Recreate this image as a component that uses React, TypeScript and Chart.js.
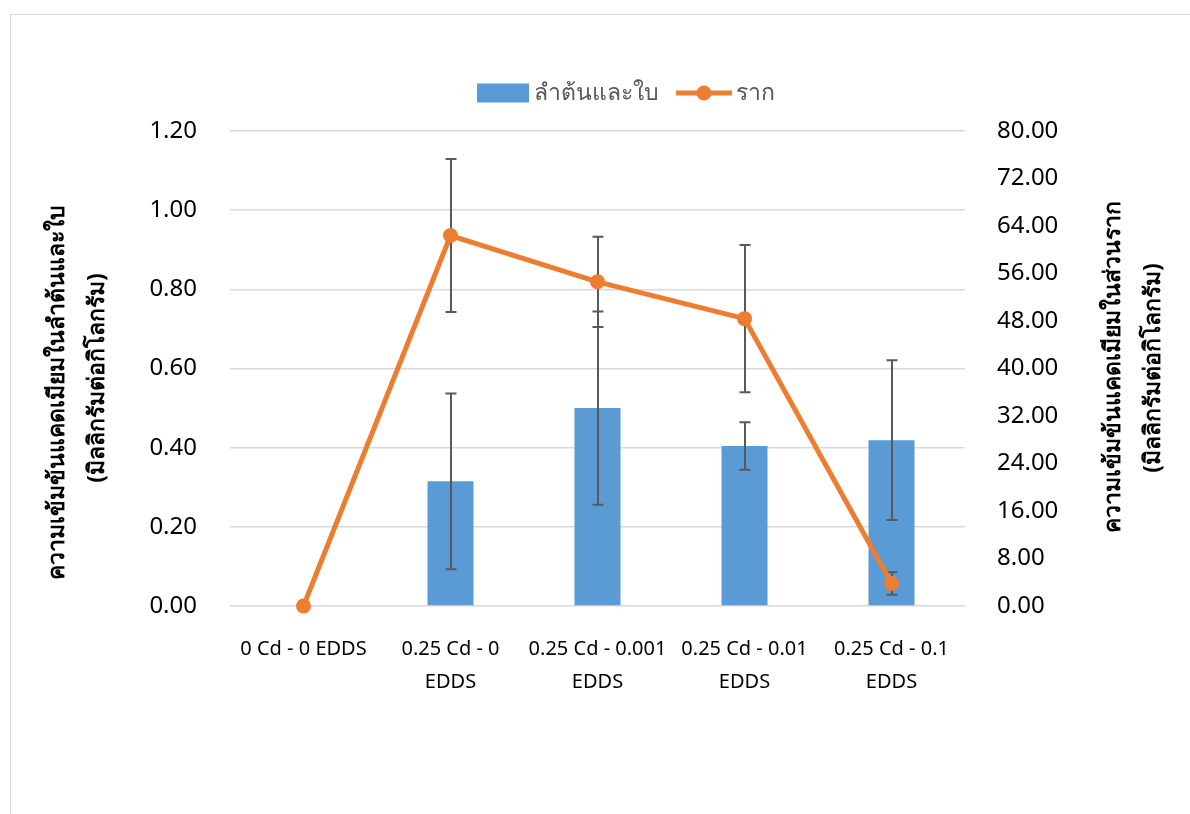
import React, { useEffect, useRef } from 'react';
import { Chart, registerables } from 'chart.js';

Chart.register(...registerables);

const categories: string[][] = [
  ['0 Cd - 0 EDDS'],
  ['0.25 Cd - 0', 'EDDS'],
  ['0.25 Cd - 0.001', 'EDDS'],
  ['0.25 Cd - 0.01', 'EDDS'],
  ['0.25 Cd - 0.1', 'EDDS'],
];
const barLabel = 'ลำต้นและใบ';
const lineLabel = 'ราก';
const barValues = [0, 0.315, 0.5, 0.404, 0.419];
const barErrors = [0, 0.222, 0.244, 0.06, 0.202];
const lineValues = [0, 62.4, 54.6, 48.4, 3.8];
const lineErrors = [0, 12.9, 7.6, 12.4, 1.9];
const leftTitle = ['ความเข้มข้นแคดเมียมในลำต้นและใบ', '(มิลลิกรัมต่อกิโลกรัม)'];
const rightTitle = ['ความเข้มข้นแคดเมียมในส่วนราก', '(มิลลิกรัมต่อกิโลกรัม)'];
const leftRange = { min: 0, max: 1.2, step: 0.2 };
const rightRange = { min: 0, max: 80, step: 8 };

const FONT = "'Noto Sans', 'DejaVu Sans', sans-serif";
const BLUE = '#5B9BD5';
const ORANGE = '#ED7D31';
const ERR = '#595959';

function drawErrors(chart: any, dsIndex: number, errs: number[], vals: number[], scaleId: string) {
  const ctx = chart.ctx;
  const meta = chart.getDatasetMeta(dsIndex);
  const scale = chart.scales[scaleId];
  ctx.save();
  ctx.strokeStyle = ERR;
  ctx.lineWidth = 2;
  meta.data.forEach((el: any, i: number) => {
    const e = errs[i];
    if (!e) return;
    const x = Math.round(el.x);
    const yt = scale.getPixelForValue(vals[i] + e);
    const yb = scale.getPixelForValue(vals[i] - e);
    ctx.beginPath();
    ctx.moveTo(x, yt);
    ctx.lineTo(x, yb);
    ctx.moveTo(x - 5.5, yt);
    ctx.lineTo(x + 5.5, yt);
    ctx.moveTo(x - 5.5, yb);
    ctx.lineTo(x + 5.5, yb);
    ctx.stroke();
  });
  ctx.restore();
}

const errorPlugin = {
  id: 'errorBars',
  afterDatasetDraw(chart: any, args: any) {
    if (args.index === 1) drawErrors(chart, 1, barErrors, barValues, 'y');
  },
  beforeDatasetDraw(chart: any, args: any) {
    if (args.index === 0) drawErrors(chart, 0, lineErrors, lineValues, 'y1');
  },
};

function drawRotated(ctx: CanvasRenderingContext2D, lines: string[], xs: number[], ys: number[]) {
  lines.forEach((t, i) => {
    ctx.save();
    ctx.translate(xs[i], ys[i]);
    ctx.rotate(-Math.PI / 2);
    ctx.textAlign = 'center';
    ctx.textBaseline = 'middle';
    ctx.fillText(t, 0, 0);
    ctx.restore();
  });
}

const decorPlugin = {
  id: 'decor',
  afterDraw(chart: any) {
    const ctx: CanvasRenderingContext2D = chart.ctx;
    ctx.save();
    // legend
    ctx.font = `23px ${FONT}`;
    ctx.textBaseline = 'middle';
    ctx.textAlign = 'left';
    const ly = 93;
    let x = 477;
    ctx.fillStyle = BLUE;
    ctx.fillRect(x, ly - 9.5, 52, 19);
    x += 57;
    ctx.fillStyle = '#595959';
    ctx.fillText(barLabel, x, ly);
    x += ctx.measureText(barLabel).width + 17;
    ctx.strokeStyle = ORANGE;
    ctx.lineWidth = 5;
    ctx.beginPath();
    ctx.moveTo(x, ly);
    ctx.lineTo(x + 56, ly);
    ctx.stroke();
    ctx.fillStyle = ORANGE;
    ctx.beginPath();
    ctx.arc(x + 28, ly, 7.5, 0, Math.PI * 2);
    ctx.fill();
    x += 60;
    ctx.fillStyle = '#595959';
    ctx.fillText(lineLabel, x, ly);
    // axis titles
    ctx.fillStyle = '#000';
    ctx.font = `bold 23px ${FONT}`;
    drawRotated(ctx, leftTitle, [57, 97], [392, 378]);
    drawRotated(ctx, rightTitle, [1113, 1153], [367, 368]);
    ctx.restore();
  },
};

export default function App() {
  const ref = useRef<HTMLCanvasElement>(null);
  useEffect(() => {
    if (!ref.current) return;
    const chart = new Chart(ref.current, {
      type: 'bar',
      data: {
        labels: categories,
        datasets: [
          {
            type: 'line',
            label: lineLabel,
            data: lineValues,
            yAxisID: 'y1',
            borderColor: ORANGE,
            backgroundColor: ORANGE,
            borderWidth: 5,
            pointRadius: 7.5,
            pointHoverRadius: 7.5,
            pointBorderWidth: 0,
            tension: 0,
            clip: false,
          } as any,
          {
            type: 'bar',
            label: barLabel,
            data: barValues,
            yAxisID: 'y',
            backgroundColor: BLUE,
            borderWidth: 0,
            barPercentage: 0.313,
            categoryPercentage: 1,
          },
        ],
      },
      options: {
        responsive: false,
        maintainAspectRatio: false,
        animation: false,
        layout: { padding: { top: 131, left: 0, right: 0, bottom: 0 } },
        plugins: { legend: { display: false }, tooltip: { enabled: false } },
        scales: {
          x: {
            grid: { display: false },
            border: { display: false },
            ticks: {
              color: '#000',
              font: { family: FONT, size: 20, lineHeight: '33px' } as any,
              padding: 19,
              maxRotation: 0,
              autoSkip: false,
            },
            afterFit: (s: any) => { s.height = 208; },
          },
          y: {
            position: 'left',
            min: leftRange.min,
            max: leftRange.max,
            ticks: {
              stepSize: leftRange.step,
              color: '#000',
              font: { family: FONT, size: 24 },
              padding: 33,
              callback: (v: any) => Number(v).toFixed(2),
            },
            grid: { color: '#d9d9d9', lineWidth: 1.5, drawTicks: false },
            border: { display: false },
            afterFit: (s: any) => { s.width = 230; },
          },
          y1: {
            position: 'right',
            min: rightRange.min,
            max: rightRange.max,
            ticks: {
              stepSize: rightRange.step,
              color: '#000',
              font: { family: FONT, size: 24 },
              padding: 32,
              callback: (v: any) => Number(v).toFixed(2),
            },
            grid: { display: false, drawTicks: false },
            border: { display: false },
            afterFit: (s: any) => { s.width = 225; },
          },
        },
      },
      plugins: [errorPlugin, decorPlugin],
    });
    return () => chart.destroy();
  }, []);
  return (
    <div style={{ position: 'fixed', left: 0, top: 0, width: 1190, height: 814, overflow: 'hidden', background: '#fff' }}>
      <div style={{ position: 'absolute', left: 10, top: 14, width: 1200, height: 830, border: '1px solid #d9d9d9', boxSizing: 'border-box' }} />
      <canvas ref={ref} width={1190} height={814} style={{ position: 'absolute', left: 0, top: 0, width: 1190, height: 814 }} />
    </div>
  );
}
